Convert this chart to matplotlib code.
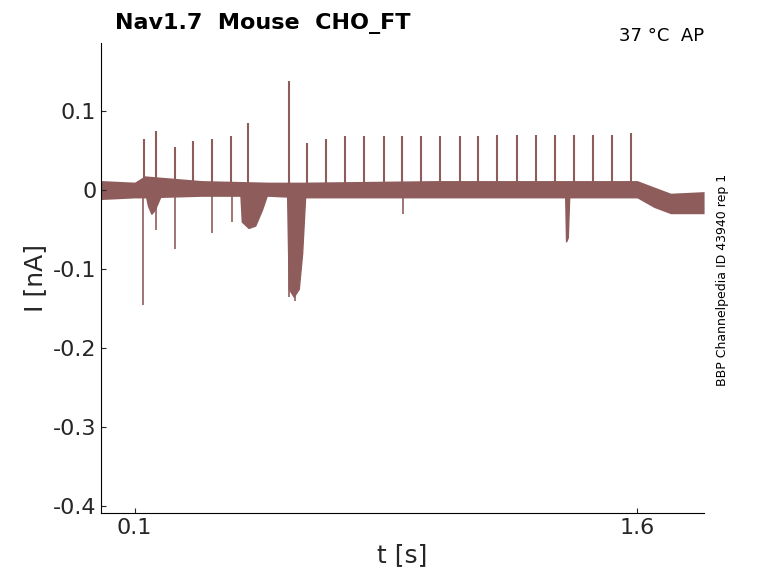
import matplotlib
matplotlib.use("Agg")
import matplotlib.pyplot as plt

# baseline band (noise envelope)
band_t = [0.0, 0.1, 0.13, 0.3, 0.5, 0.6, 1.0, 1.4, 1.6, 1.65, 1.7, 1.8]
band_lo = [-0.012, -0.01, -0.01, -0.008, -0.008, -0.01, -0.01, -0.01, -0.01, -0.022, -0.03, -0.03]
band_hi = [0.012, 0.01, 0.018, 0.012, 0.01, 0.01, 0.012, 0.012, 0.012, 0.004, -0.004, -0.002]

# upward spikes
up_t = [0.127, 0.163, 0.220, 0.274, 0.331, 0.388, 0.439, 0.561, 0.615, 0.672,
        0.729, 0.786, 0.843, 0.899, 0.956, 1.013, 1.070, 1.126, 1.183, 1.240,
        1.297, 1.354, 1.411, 1.468, 1.524, 1.581]
up_v = [0.065, 0.075, 0.055, 0.062, 0.065, 0.068, 0.085, 0.138, 0.06, 0.065,
        0.068, 0.068, 0.068, 0.068, 0.068, 0.068, 0.068, 0.068, 0.07, 0.07,
        0.07, 0.07, 0.07, 0.07, 0.07, 0.072]

# downward deflections
dn_t = [0.0, 0.124, 0.165, 0.22, 0.33, 0.39, 0.56, 0.58, 0.9, 1.39]
dn_v = [-0.19, -0.145, -0.05, -0.075, -0.055, -0.04, -0.135, -0.14, -0.03, -0.065]

# slow dips as outlines
dip1_t = [0.13, 0.14, 0.15, 0.16, 0.175, 0.19]
dip1_v = [0.0, -0.02, -0.03, -0.025, -0.01, 0.0]
dip2_t = [0.415, 0.42, 0.44, 0.46, 0.48, 0.5]
dip2_v = [0.0, -0.04, -0.048, -0.045, -0.025, 0.0]
dip3_t = [0.555, 0.56, 0.575, 0.59, 0.6, 0.61]
dip3_v = [0.0, -0.125, -0.135, -0.125, -0.08, 0.0]
dip4_t = [1.385, 1.388, 1.393, 1.398]
dip4_v = [0.0, -0.065, -0.06, 0.0]

col = "#8f5c5c"
fig = plt.figure(figsize=(7.78, 5.83), dpi=100)
ax = fig.add_axes([0.13, 0.12, 0.775, 0.806])
ax.fill_between(band_t, band_lo, band_hi, color=col, lw=0)
ax.vlines(up_t, 0, up_v, color=col, lw=1.5)
ax.vlines(dn_t, 0, dn_v, color=col, lw=1.2)
for dt, dv in [(dip1_t, dip1_v), (dip2_t, dip2_v), (dip3_t, dip3_v), (dip4_t, dip4_v)]:
    ax.fill_between(dt, dv, 0, color=col, lw=1)

ax.set_xlim(0, 1.8)
ax.set_ylim(-0.409, 0.186)
ax.set_xticks([0.1, 1.6])
ax.set_xticklabels(["0.1", "1.6"])
ax.set_yticks([-0.4, -0.3, -0.2, -0.1, 0, 0.1])
ax.set_yticklabels(["-0.4", "-0.3", "-0.2", "-0.1", "0", "0.1"])
for s in ["top", "right"]:
    ax.spines[s].set_visible(False)
ax.tick_params(labelsize=16, colors="#262626", direction="in")
ax.set_xlabel("t [s]", fontsize=18, color="#262626")
ax.set_ylabel("I [nA]", fontsize=18, color="#262626")
fig.text(0.148, 0.95, "Nav1.7  Mouse  CHO_FT", fontsize=16, fontweight="bold")
fig.text(0.905, 0.93, "37 °C  AP", fontsize=13, ha="right")
fig.text(0.92, 0.52, "BBP Channelpedia ID 43940 rep 1", fontsize=9, rotation=90, va="center")
fig.savefig("out.png", dpi=100)
